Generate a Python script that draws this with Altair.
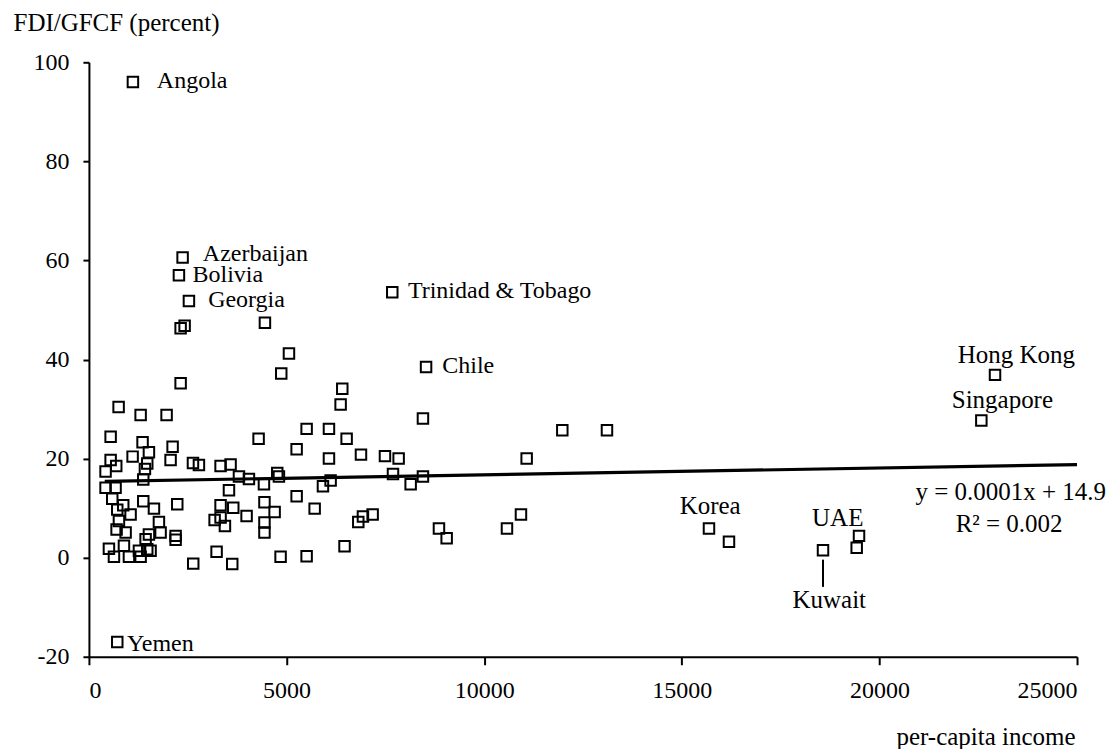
import altair as alt
import pandas as pd

# ---- data ----
income = [
    1113, 2370, 2277, 2530, 7675, 8530, 22925, 22579, 15688, 18573, 19484, 717,
    2320, 2421, 4453, 5061, 4866, 2320,
    751, 1308, 1965, 6410, 6368, 8451,
    5508, 6073, 11977, 13107, 549, 4293, 6520,
    1357, 2117, 5255, 1518, 1105, 6883, 7490, 7836, 6073, 11075,
    549, 2066, 691, 1476, 2632, 2783, 3331, 3584, 1417, 421,
    7693, 8451, 4765, 4807, 3796, 4048, 1375, 6115, 8140, 4428, 5921, 421, 674, 3543,
    590, 1375, 5255, 868, 2235, 3331, 4441, 3652, 1645, 5711, 717, 4698, 1054, 3989,
    6933, 7178, 10931, 3331, 3180, 759, 1771, 6815, 4441, 3441, 8856, 10577, 700,
    928, 1813, 4441, 1518, 2193, 2193, 1434, 9051, 16194, 6467, 886, 506, 1476,
    3230, 19425, 633, 1012, 1308, 4849, 5508, 2639, 3626, 1265, 1560,
]
fdi_gfcf = [
    96.0, 60.6, 57.0, 51.8, 53.6, 38.5, 36.9, 27.7, 5.9, 1.5, 4.4, -17.0,
    46.3, 46.8, 47.4, 41.2, 37.2, 35.2,
    30.4, 28.8, 28.8, 34.1, 30.9, 28.1,
    26.0, 26.0, 25.7, 25.7, 24.4, 24.0, 24.0,
    23.3, 22.4, 21.9, 21.3, 20.4, 20.8, 20.5, 20.0, 20.0, 20.0,
    19.7, 19.7, 18.5, 19.0, 19.1, 18.7, 18.5, 18.8, 17.9, 17.4,
    16.9, 16.4, 17.1, 16.4, 16.4, 15.9, 15.8, 15.6, 14.8, 14.8, 14.4, 14.1, 14.1, 13.6,
    11.9, 11.4, 12.4, 10.6, 10.8, 10.6, 11.2, 10.1, 9.9, 9.9, 9.7, 9.2, 8.7, 8.4,
    8.3, 8.7, 8.7, 8.1, 7.6, 7.4, 7.2, 7.2, 7.1, 6.4, 5.9, 5.9, 5.7,
    5.1, 5.1, 5.1, 4.7, 4.4, 3.6, 3.7, 3.9, 3.2, 2.3, 2.4, 1.8, 1.7,
    1.2, 2.0, 0.2, 0.2, 0.2, 0.2, 0.3, -1.2, -1.3, 1.4, 1.4,
]

# annotations (left-anchored next to their points)
left_labels = ["Angola", "Azerbaijan", "Bolivia", "Georgia", "Trinidad & Tobago", "Chile", "Yemen"]
left_label_x = [1719, 2882, 2621, 3016, 8071, 8941, 961]
left_label_y = [96.2, 61.3, 57.0, 52.0, 53.9, 38.7, -17.4]

# annotations (centred)
center_labels = ["Hong Kong", "Singapore", "Korea", "UAE", "Kuwait", "y = 0.0001x + 14.9", "R² = 0.002"]
center_label_x = [23466, 23112, 15718, 18946, 18732, 23324, 23281]
center_label_y = [40.9, 31.8, 10.4, 8.0, -8.5, 13.3, 6.8]

# linear trend line end points
trend_x = [400, 25000]
trend_y = [15.4, 18.8]

# Kuwait leader line
leader_x = [18573]
leader_y = [-0.4]
leader_y2 = [-5.9]

FONT = "Liberation Serif"

points_df = pd.DataFrame({"income": income, "fdi": fdi_gfcf})
trend_df = pd.DataFrame({"income": trend_x, "fdi": trend_y})
left_df = pd.DataFrame({"income": left_label_x, "fdi": left_label_y, "label": left_labels})
center_df = pd.DataFrame({"income": center_label_x, "fdi": center_label_y, "label": center_labels})
leader_df = pd.DataFrame({"income": leader_x, "fdi": leader_y, "fdi2": leader_y2})

x_scale = alt.Scale(domain=[0, 25000], nice=False, zero=False)
y_scale = alt.Scale(domain=[-20, 100], nice=False, zero=False)

x_axis = alt.Axis(
    title="per-capita income", values=[0, 5000, 10000, 15000, 20000, 25000],
    labelExpr="'' + datum.value",
    titleAlign="right", titleX=987, titleY=80, titleBaseline="middle",
    labelPadding=14, tickSize=8,
)
y_axis = alt.Axis(
    title="FDI/GFCF (percent)", values=[-20, 0, 20, 40, 60, 80, 100],
    labelExpr="'' + datum.value",
    titleAngle=0, titleAlign="left", titleX=-76, titleY=-40, titleBaseline="middle",
    labelPadding=14, tickSize=6,
)

points = alt.Chart(points_df).mark_point(
    shape="square", filled=False, stroke="black", strokeWidth=2, size=110, opacity=1
).encode(
    x=alt.X("income:Q", scale=x_scale, axis=x_axis),
    y=alt.Y("fdi:Q", scale=y_scale, axis=y_axis),
)

trend = alt.Chart(trend_df).mark_line(color="black", strokeWidth=3.2).encode(
    x=alt.X("income:Q", scale=x_scale),
    y=alt.Y("fdi:Q", scale=y_scale),
)

leader = alt.Chart(leader_df).mark_rule(color="black", strokeWidth=2).encode(
    x=alt.X("income:Q", scale=x_scale),
    y=alt.Y("fdi:Q", scale=y_scale),
    y2="fdi2:Q",
)

left_text = alt.Chart(left_df).mark_text(
    font=FONT, fontSize=24, align="left", baseline="middle", color="black"
).encode(
    x=alt.X("income:Q", scale=x_scale),
    y=alt.Y("fdi:Q", scale=y_scale),
    text="label:N",
)

center_text = alt.Chart(center_df).mark_text(
    font=FONT, fontSize=25, align="center", baseline="middle", color="black"
).encode(
    x=alt.X("income:Q", scale=x_scale),
    y=alt.Y("fdi:Q", scale=y_scale),
    text="label:N",
)

chart = alt.layer(points, trend, leader, left_text, center_text).properties(
    width=989,
    height=595,
    autosize=alt.AutoSizeParams(type="none"),
    padding={"left": 81, "top": 54, "right": 30, "bottom": 95},
    background="white",
).configure_view(
    stroke=None
).configure_axis(
    grid=False,
    domainColor="black",
    domainWidth=2,
    tickColor="black",
    tickWidth=2,
    labelFont=FONT,
    labelFontSize=24,
    labelColor="black",
    titleFont=FONT,
    titleFontSize=25,
    titleFontWeight="normal",
    titleColor="black",
)

chart.save("out.html", embed_options={"renderer": "svg", "actions": False})
